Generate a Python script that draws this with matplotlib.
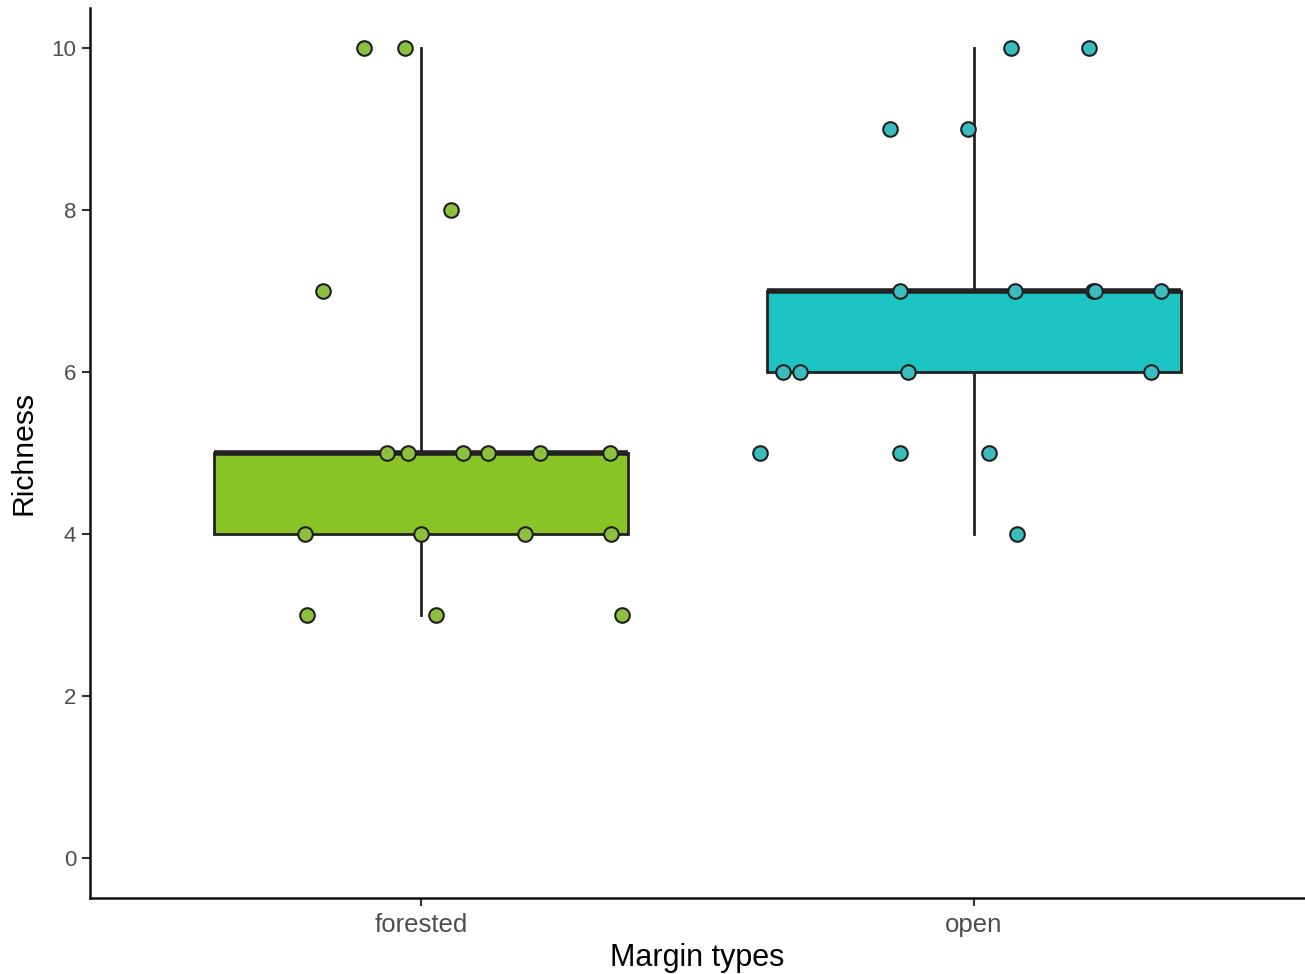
import matplotlib.pyplot as plt
import numpy as np

plt.rcParams['font.family'] = ['Liberation Sans', 'DejaVu Sans']

groups = ["forested", "open"]
box_fill = ["#88C425", "#1CC4C4"]
point_fill = ["#8EC03F", "#3BBDBD"]

# box stats
q1 = [4, 6]
med = [5, 7]
q3 = [5, 7]
wlo = [3, 4]
whi = [10, 10]

# jittered points (x in category units, y value)
forested_x = [0.897, 0.971, 1.054, 0.822, 0.937, 0.976, 1.076, 1.120, 1.214, 1.342,
              0.790, 1.000, 1.187, 1.344, 0.793, 1.027, 1.364]
forested_y = [10, 10, 8, 7, 5, 5, 5, 5, 5, 5, 4, 4, 4, 4, 3, 3, 3]
open_x = [2.067, 2.208, 1.848, 1.989, 1.866, 2.074, 2.217, 2.219, 2.339, 1.654,
          1.685, 1.882, 2.322, 1.614, 1.866, 2.027, 2.078]
open_y = [10, 10, 9, 9, 7, 7, 7, 7, 7, 6, 6, 6, 6, 5, 5, 5, 4]

fig = plt.figure(figsize=(13.05, 9.74), dpi=100)
ax = fig.add_axes([90/1305, 76/974, 1215/1305, 890/974])

stats = []
for i in range(2):
    stats.append(dict(med=med[i], q1=q1[i], q3=q3[i], whislo=wlo[i], whishi=whi[i], fliers=[]))

bp = ax.bxp(stats, positions=[1, 2], widths=0.75, patch_artist=True, showcaps=False,
            boxprops=dict(edgecolor="#222222", linewidth=2),
            medianprops=dict(color="#222222", linewidth=4, solid_capstyle="butt"),
            whiskerprops=dict(color="#222222", linewidth=2))
for patch, c in zip(bp["boxes"], box_fill):
    patch.set_facecolor(c)

ax.scatter(forested_x, forested_y, s=110, c=point_fill[0], edgecolors="#1f1f1f",
           linewidths=1.5, zorder=5)
ax.scatter(open_x, open_y, s=110, c=point_fill[1], edgecolors="#1f1f1f",
           linewidths=1.5, zorder=5)

ax.set_xlim(0.4, 2.6)
ax.set_ylim(-0.494, 10.494)
ax.set_xticks([1, 2])
ax.set_xticklabels(groups)
ax.set_yticks([0, 2, 4, 6, 8, 10])

for s in ["top", "right"]:
    ax.spines[s].set_visible(False)
for s in ["left", "bottom"]:
    ax.spines[s].set_linewidth(1.8)
    ax.spines[s].set_color("#111111")

ax.tick_params(axis="both", length=6, width=1.5, color="#333333",
               labelcolor="#4D4D4D", pad=4)
ax.tick_params(axis="y", labelsize=16)
ax.tick_params(axis="x", labelsize=18.5, pad=5)
ax.set_xlabel("Margin types", fontsize=22, color="black", labelpad=4)
ax.set_ylabel("Richness", fontsize=21.7, color="black", labelpad=10)

fig.savefig("out.png", dpi=100)
